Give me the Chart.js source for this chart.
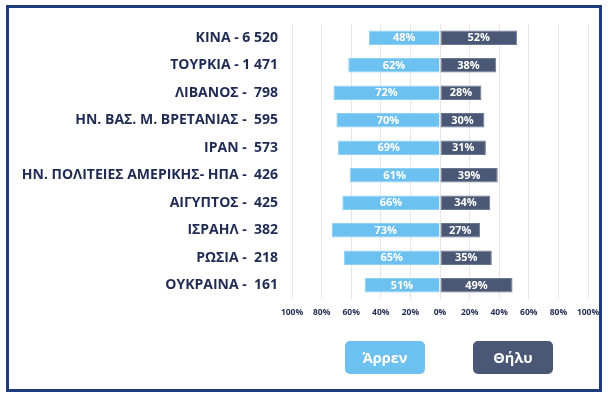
<!DOCTYPE html>
<html><head><meta charset="utf-8">
<script src="https://cdn.jsdelivr.net/npm/chart.js@4"></script>
<style>
html,body{margin:0;padding:0;background:#fff;}
#wrap{position:relative;width:611px;height:398px;}
#frame{position:absolute;left:6px;top:5px;width:596px;height:387px;box-sizing:border-box;border:3px solid #1c3c7c;pointer-events:none;}
canvas{position:absolute;left:0;top:0;}
.lg{position:absolute;top:341px;height:33px;width:80px;border-radius:5px;color:#fff;font:bold 14.5px "Open Sans",sans-serif;display:flex;align-items:center;justify-content:center;}
</style></head><body>
<div id="wrap">
<canvas id="c" width="611" height="398"></canvas>
<div id="frame"></div>
<div class="lg" id="lgM" style="left:345px;background:#6dc1f1;">Άρρεν</div>
<div class="lg" id="lgF" style="left:473px;background:#4a5775;">Θήλυ</div>
</div>
<script>
const categories = ["ΚΙΝΑ - 6 520","ΤΟΥΡΚΙΑ - 1 471","ΛΙΒΑΝΟΣ -  798","ΗΝ. ΒΑΣ. Μ. ΒΡΕΤΑΝΙΑΣ -  595","ΙΡΑΝ -  573","ΗΝ. ΠΟΛΙΤΕΙΕΣ ΑΜΕΡΙΚΗΣ- ΗΠΑ -  426","ΑΙΓΥΠΤΟΣ -  425","ΙΣΡΑΗΛ -  382","ΡΩΣΙΑ -  218","ΟΥΚΡΑΙΝΑ -  161"];
const male = [48,62,72,70,69,61,66,73,65,51];
const female = [52,38,28,30,31,39,34,27,35,49];
const seriesNames = ["Άρρεν","Θήλυ"];
const tickValues = [-100,-80,-60,-40,-20,0,20,40,60,80,100];

const FONT = '"Open Sans",sans-serif';
const navy = '#1f2b52';

const labelPlugin = {
  id:'barLabels',
  afterDatasetsDraw(chart){
    const ctx = chart.ctx;
    ctx.save();
    ctx.font = 'bold 11px ' + FONT;
    ctx.fillStyle = '#fff';
    ctx.textAlign = 'center';
    ctx.textBaseline = 'middle';
    chart.data.datasets.forEach((ds, di) => {
      const meta = chart.getDatasetMeta(di);
      meta.data.forEach((bar, i) => {
        const v = Math.abs(ds.data[i]);
        const x = (bar.x + bar.base) / 2;
        ctx.fillText(v + '%', x, bar.y + 0.5);
      });
    });
    ctx.restore();
  }
};

new Chart(document.getElementById('c'), {
  type: 'bar',
  data: {
    labels: categories,
    datasets: [
      {label: seriesNames[0], data: male.map(v => -v), backgroundColor:'#6dc1f1', borderColor:'#8fd0f5', borderWidth:{top:1,bottom:1,left:1,right:0}, borderSkipped:false, barPercentage:0.96, categoryPercentage:0.54},
      {label: seriesNames[1], data: female, backgroundColor:'#4a5775', borderColor:'#6b7690', borderWidth:{top:1,bottom:1,left:1,right:1}, borderSkipped:false, barPercentage:0.96, categoryPercentage:0.54}
    ]
  },
  options: {
    indexAxis: 'y',
    responsive: false,
    animation: false,
    devicePixelRatio: 1,
    layout: {padding: {top: 24, right: 23, left: 0, bottom: 0}},
    plugins: {legend: {display: false}, tooltip: {enabled: false}},
    scales: {
      x: {
        stacked: true, min: -100, max: 100,
        afterBuildTicks(s){ s.ticks = tickValues.map(v => ({value: v})); },
        afterFit(s){ s.height = 99; },
        grid: {color: '#e6e6e6', drawTicks: false, lineWidth: 1},
        border: {display: false},
        ticks: {padding: 8, color: navy, font: {family: FONT, size: 8.5, weight: 'bold'}, callback: v => Math.abs(v) + '%', maxRotation: 0, autoSkip: false}
      },
      y: {
        stacked: true,
        afterFit(s){ s.width = 292; },
        grid: {display: false, drawTicks: false},
        border: {display: false},
        ticks: {padding: 14, color: navy, font: {family: FONT, size: 14, weight: 'bold'}, autoSkip: false}
      }
    }
  },
  plugins: [labelPlugin]
});
</script>
</body></html>
